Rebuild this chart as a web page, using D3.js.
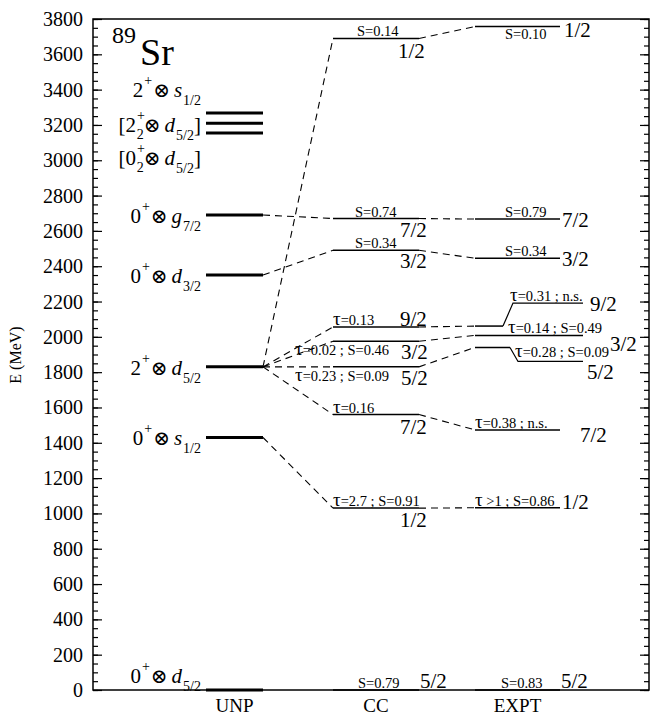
<!DOCTYPE html>
<html>
<head>
<meta charset="utf-8">
<script src="https://cdn.jsdelivr.net/npm/d3@7"></script>
<style>
  body { margin: 0; background: #fff; }
  svg { display: block; }
  text { font-family: "Liberation Serif", "Times New Roman", "DejaVu Serif", serif; fill: #000; }
</style>
</head>
<body>
<svg id="chart" width="656" height="716"></svg>
<script>
// ---- data -------------------------------------------------------------
const columns = ["UNP", "CC", "EXPT"];
const energyTicks = d3.range(0, 3801, 200);
const energyMinorTicks = d3.range(0, 3801, 50);

// unperturbed particle ⊗ core configurations (keV)
const unpEnergies = [0, 1430, 1830, 2350, 2690];
const unpCore = ["0", "0", "2", "0", "0"];
const unpOrbital = ["d", "s", "d", "d", "g"];
const unpJ = ["5/2", "1/2", "5/2", "3/2", "7/2"];

// upper multiplet: three nearly degenerate configurations
const upperEnergies = [3155, 3210, 3268];
const upperCore = ["2", "2", "0"];
const upperCoreIndex = [null, "2", "2"];
const upperOrbital = ["s", "d", "d"];
const upperJ = ["1/2", "5/2", "5/2"];
const upperBracket = [false, true, true];

// coupled-channel results
const ccEnergies = [0, 1030, 1560, 1830, 1975, 2056, 2490, 2670, 3690];
const ccSpins = ["5/2", "1/2", "7/2", "5/2", "3/2", "9/2", "3/2", "7/2", "1/2"];
const ccTau = [null, "2.7", "0.16", "0.23", "0.02", "0.13", null, null, null];
const ccS = ["0.79", "0.91", null, "0.09", "0.46", null, "0.34", "0.74", "0.14"];

// measured levels
const exptEnergies = [0, 1032, 1473, 1940, 2008, 2061, 2445, 2667, 3757];
const exptSpins = ["5/2", "1/2", "7/2", "5/2", "3/2", "9/2", "3/2", "7/2", "1/2"];
const exptTau = [null, ">1", "0.38", "0.28", "0.14", "0.31", null, null, null];
const exptS = ["0.83", "0.86", "n.s.", "0.09", "0.49", "n.s.", "0.34", "0.79", "0.10"];

// dashed correspondences [from index, to index]
const unpToCc = [[1, 1], [2, 2], [2, 3], [2, 4], [2, 5], [2, 8], [3, 6], [4, 7]];
const ccToExpt = [[1, 1], [2, 2], [3, 3], [4, 4], [5, 5], [6, 6], [7, 7], [8, 8]];

// ---- layout -----------------------------------------------------------
const frame = { left: 93, right: 649, top: 19, bottom: 690 };
const halfWidth = { UNP: 28.5, CC: 43, EXPT: 42.5 };

// label placement per level: info text x / baseline offset, spin x / baseline offset
const ccPlace = [
  { ix: 358, iy: -2, sx: 420, sy: -2 },
  { ix: 333, iy: -2, sx: 400, sy: 19 },
  { ix: 333, iy: -2, sx: 400, sy: 19 },
  { ix: 295, iy: 14, sx: 401, sy: 18 },
  { ix: 295, iy: 14, sx: 401, sy: 18 },
  { ix: 333, iy: -2, sx: 400, sy: -1 },
  { ix: 355, iy: -2, sx: 400, sy: 18 },
  { ix: 355, iy: -2, sx: 400, sy: 18 },
  { ix: 357, iy: -2, sx: 398, sy: 20 }
];
const exptPlace = [
  { ix: 501, iy: -2, sx: 561, sy: -2 },
  { ix: 475, iy: -2, sx: 562, sy: 1 },
  { ix: 475, iy: -2, sx: 580, sy: 12 },
  { ix: 515, iy: 10, sx: 587, sy: 32, lineEnd: 510, leader: { x: 518, dy: 14, end: 583 } },
  { ix: 508, iy: -2, sx: 610, sy: 16, lineEnd: 583 },
  { ix: 510, iy: -25, sx: 590, sy: -15, lineEnd: 503, leader: { x: 513, dy: -23, end: 583 } },
  { ix: 505, iy: -2, sx: 562, sy: 8 },
  { ix: 505, iy: -2, sx: 562, sy: 8 },
  { ix: 505, iy: 12, sx: 564, sy: 10 }
];
const upperLabelEnergy = [3358, 3160, 2973];

// ---- scales -----------------------------------------------------------
const svg = d3.select("#chart");
const y = d3.scaleLinear().domain([0, 3800]).range([frame.bottom, frame.top]);
const x = d3.scalePoint().domain(columns).range([234.5, 517.5]);
const x0 = c => x(c) - halfWidth[c];
const x1 = c => x(c) + halfWidth[c];

// ---- frame and axes ---------------------------------------------------
svg.append("rect")
  .attr("x", frame.left).attr("y", frame.top)
  .attr("width", frame.right - frame.left).attr("height", frame.bottom - frame.top)
  .attr("fill", "none").attr("stroke", "#000").attr("stroke-width", 1.5);

const leftMinor = d3.axisRight(y).tickValues(energyMinorTicks).tickSize(5).tickFormat("");
const leftMajor = d3.axisRight(y).tickValues(energyTicks).tickSize(9).tickFormat("");
const rightMinor = d3.axisLeft(y).tickValues(energyMinorTicks).tickSize(5).tickFormat("");
const rightMajor = d3.axisLeft(y).tickValues(energyTicks).tickSize(9).tickFormat("");
[[leftMinor, frame.left], [leftMajor, frame.left], [rightMinor, frame.right], [rightMajor, frame.right]]
  .forEach(([ax, px]) => {
    const g = svg.append("g").attr("transform", `translate(${px},0)`).call(ax);
    g.select(".domain").remove();
    g.selectAll("line").attr("stroke", "#000").attr("stroke-width", 1.2);
  });

svg.append("g").selectAll("text").data(energyTicks).join("text")
  .attr("x", 83).attr("y", d => y(d) + 7)
  .attr("text-anchor", "end").attr("font-size", 20)
  .text(d => d);

svg.append("text")
  .attr("transform", "translate(21,355) rotate(-90)")
  .attr("text-anchor", "middle").attr("font-size", 16)
  .text("E (MeV)");

svg.append("g").selectAll("text").data(columns).join("text")
  .attr("x", d => x(d)).attr("y", 712)
  .attr("text-anchor", "middle").attr("font-size", 19)
  .text(d => d);

// nucleus
const nuc = svg.append("text").attr("x", 112).attr("y", 65);
nuc.append("tspan").attr("font-size", 24).attr("dy", -22).text("89");
nuc.append("tspan").attr("font-size", 38).attr("dy", 22).attr("dx", 4).text("Sr");

// ---- levels -----------------------------------------------------------
const levels = svg.append("g");
function levelLine(xa, xb, e, w) {
  levels.append("line")
    .attr("x1", xa).attr("x2", xb).attr("y1", y(e)).attr("y2", y(e))
    .attr("stroke", "#000").attr("stroke-width", w);
}
unpEnergies.forEach(e => levelLine(x0("UNP"), x1("UNP"), e, 3));
upperEnergies.forEach(e => levelLine(x0("UNP"), x1("UNP"), e, 3));
ccEnergies.forEach(e => levelLine(x0("CC"), x1("CC"), e, 1.5));
exptEnergies.forEach((e, i) => {
  const p = exptPlace[i];
  levelLine(x0("EXPT"), p.lineEnd || x1("EXPT"), e, 1.5);
  if (p.leader) {
    const yl = y(e) + p.leader.dy;
    levels.append("polyline")
      .attr("points", `${p.lineEnd},${y(e)} ${p.leader.x},${yl} ${p.leader.end},${yl}`)
      .attr("fill", "none").attr("stroke", "#000").attr("stroke-width", 1.2);
  }
});

// ---- correspondences --------------------------------------------------
const dashes = svg.append("g").attr("stroke", "#000").attr("stroke-width", 1.1)
  .attr("stroke-dasharray", "7,5").attr("fill", "none");
unpToCc.forEach(([a, b]) => {
  dashes.append("line")
    .attr("x1", x1("UNP")).attr("y1", y(unpEnergies[a]))
    .attr("x2", x0("CC")).attr("y2", y(ccEnergies[b]));
});
ccToExpt.forEach(([a, b]) => {
  dashes.append("line")
    .attr("x1", x1("CC")).attr("y1", y(ccEnergies[a]))
    .attr("x2", x0("EXPT")).attr("y2", y(exptEnergies[b]));
});

// ---- configuration labels ---------------------------------------------
function configLabel(baseY, core, coreIdx, orb, j, bracket) {
  const t = svg.append("text").attr("x", 201).attr("y", baseY)
    .attr("text-anchor", "end").attr("font-size", 21);
  if (bracket) t.append("tspan").text("[");
  t.append("tspan").text(core);
  t.append("tspan").attr("font-size", 14).attr("dy", -12).attr("dx", 1).text("+");
  if (coreIdx) {
    t.append("tspan").attr("font-size", 14).attr("dx", -8).attr("dy", 19).text(coreIdx);
    t.append("tspan").attr("font-size", 20).attr("dy", -7).text("⊗");
  } else {
    t.append("tspan").attr("font-size", 20).attr("dy", 12).attr("dx", 1).text("⊗");
  }
  t.append("tspan").attr("font-style", "italic").attr("dx", 4).text(orb);
  t.append("tspan").attr("font-size", 14).attr("dy", 8).attr("dx", 1).text(j);
  if (bracket) t.append("tspan").attr("dy", -8).text("]");
}
unpEnergies.forEach((e, i) => {
  const base = e === 0 ? y(e) - 7 : y(e) + 8;
  configLabel(base, unpCore[i], null, unpOrbital[i], unpJ[i], false);
});
upperEnergies.forEach((e, i) => {
  configLabel(y(upperLabelEnergy[i]), upperCore[i], upperCoreIndex[i], upperOrbital[i], upperJ[i], upperBracket[i]);
});

// ---- lifetime / strength and spin labels ------------------------------
function infoLabel(px, py, tau, s) {
  const t = svg.append("text").attr("x", px).attr("y", py).attr("font-size", 14.5);
  if (tau) {
    t.append("tspan").attr("font-size", 19).text("τ");
    t.append("tspan").text(tau.startsWith(">") ? " " + tau : "=" + tau);
    if (s) t.append("tspan").text(" ; ");
  }
  if (s) t.append("tspan").text(s === "n.s." ? s : "S=" + s);
}
function spinLabel(px, py, j) {
  svg.append("text").attr("x", px).attr("y", py).attr("font-size", 21).text(j);
}
ccEnergies.forEach((e, i) => {
  const p = ccPlace[i];
  infoLabel(p.ix, y(e) + p.iy, ccTau[i], ccS[i]);
  spinLabel(p.sx, y(e) + p.sy, ccSpins[i]);
});
exptEnergies.forEach((e, i) => {
  const p = exptPlace[i];
  infoLabel(p.ix, y(e) + p.iy, exptTau[i], exptS[i]);
  spinLabel(p.sx, y(e) + p.sy, exptSpins[i]);
});
</script>
</body>
</html>
